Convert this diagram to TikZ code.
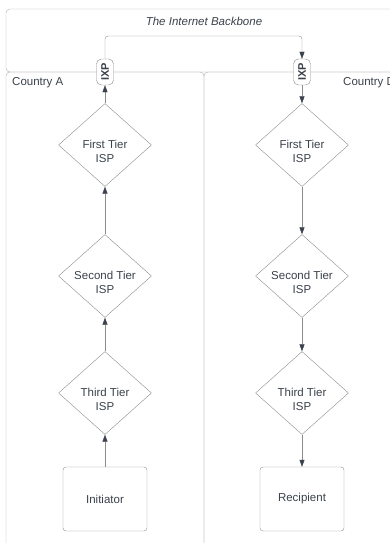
\documentclass[tikz,border=0pt]{standalone}
\usepackage{fontspec}
\setmainfont{Liberation Sans}
\usetikzlibrary{shapes.geometric,arrows.meta}

\definecolor{inkgray}{HTML}{3A414A}
\definecolor{edgegray}{HTML}{8C8C8C}
\definecolor{framegray}{HTML}{B0B0B0}

\tikzset{
  tiertext/.style={align=center, yshift=-6pt, text=inkgray},
  isp/.style={diamond, draw=edgegray, minimum width=93pt, minimum height=83pt,
    inner sep=0pt, label={[tiertext]center:#1}},
  host/.style={draw=edgegray, rounded corners=3pt, minimum width=84pt,
    minimum height=64pt, text=inkgray},
  ixp/.style={draw=edgegray, fill=white, rounded corners=5pt, rotate=90,
    minimum width=26pt, minimum height=17pt, inner sep=0pt, text=inkgray,
    font=\fontsize{11}{13}\selectfont\bfseries},
  region/.style={inner sep=0pt, text=inkgray},
  link/.style={draw=edgegray, -{Triangle[length=7pt,width=5pt,color=inkgray]}},
}

\begin{document}
\begin{tikzpicture}[x=1pt, y=-1pt, font=\fontsize{11.5}{14}\selectfont]
\useasboundingbox (0,0) rectangle (390,543);
\clip (0,0) rectangle (390,543);

% containers
\draw[framegray, rounded corners=4pt] (6,9) rectangle (420,72);
\draw[framegray, rounded corners=4pt] (6,72) rectangle (204,560);
\draw[framegray, rounded corners=4pt] (204,72) rectangle (420,560);

\node[region] (title) at (204,21) {\itshape The Internet Backbone};
\node[region, anchor=west] (ctyA) at (12,83) {Country A};
\node[region, anchor=west] (ctyD) at (343,83) {Country D};

% country A
\node[ixp] (IXPA) at (105,72) {IXP};
\node[isp={First Tier\\ISP}] (FA) at (105,145) {};
\node[isp={Second Tier\\ISP}] (SA) at (105,276) {};
\node[isp={Third Tier\\ISP}] (TA) at (105,393) {};
\node[host] (Init) at (105,499) {Initiator};

% country D
\node[ixp] (IXPD) at (302,72) {IXP};
\node[isp={First Tier\\ISP}] (FD) at (302,145) {};
\node[isp={Second Tier\\ISP}] (SD) at (302,276) {};
\node[isp={Third Tier\\ISP}] (TD) at (302,393) {};
\node[host] (Rec) at (302,499) {Recipient};

\coordinate (bend) at (0,36);

\draw[link] (Init) -- (TA);
\draw[link] (TA) -- (SA);
\draw[link] (SA) -- (FA);
\draw[link] (FA) -- (IXPA);
\draw[link, rounded corners=3pt] (IXPA.east) -- (IXPA.east |- bend) -| (IXPD.east);
\draw[link] (IXPD) -- (FD);
\draw[link] (FD) -- (SD);
\draw[link] (SD) -- (TD);
\draw[link] (TD) -- (Rec);
\end{tikzpicture}
\end{document}
